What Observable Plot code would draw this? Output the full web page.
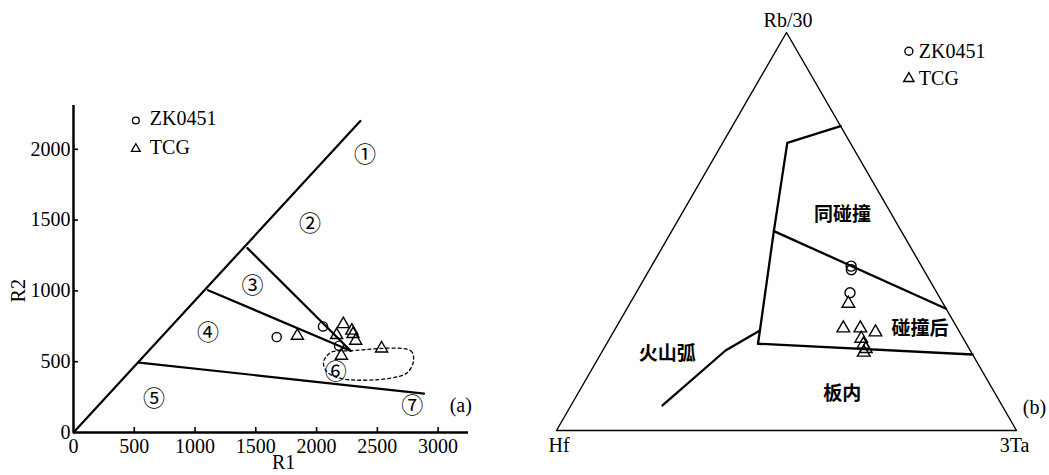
<!DOCTYPE html>
<html><head><meta charset="utf-8">
<script src="https://cdn.jsdelivr.net/npm/d3@7"></script>
<script src="https://cdn.jsdelivr.net/npm/@observablehq/plot@0.6"></script>
<style>
html,body{margin:0;padding:0;background:#fff;}
#wrap{position:relative;width:1049px;height:475px;overflow:hidden;background:#fff;}
#a{position:absolute;left:0;top:0;}
#b{position:absolute;left:490px;top:0;}
</style></head><body><div id="wrap"><div id="a"></div><div id="b"></div></div>
<script>
// ---------- Panel (a): R1–R2 diagram ----------
const r1Ticks = [0, 500, 1000, 1500, 2000, 2500, 3000];
const r2Ticks = [0, 500, 1000, 1500, 2000];
const zk0451_R1 = [1672, 2053, 2185];
const zk0451_R2 = [674, 749, 613];
const tcg_R1 = [1842, 2220, 2165, 2290, 2300, 2322, 2204, 2535];
const tcg_R2 = [683, 765, 688, 719, 695, 648, 542, 593];
// field boundaries (R1, R2)
const bndDiag = [[0, 0], [2360, 2200]];
const bnd23 = [[1431, 1302], [2280, 577]];
const bnd34 = [[1107, 1005], [2280, 577]];
const bnd45 = [[540, 494], [2884, 275]];
const field6 = [[2267, 577], [2775, 577], [2797, 507], [2748, 424], [2610, 384], [2226, 377], [2090, 424], [2057, 495], [2117, 565]];
const fieldNames = ["①", "②", "③", "④", "⑤", "⑥", "⑦"];
const fieldR1 = [2398, 1946, 1472, 1107, 663, 2157, 2788];
const fieldR2 = [1959, 1476, 1036, 702, 236, 431, 189];

// ---------- Panel (b): Rb/30 – Hf – 3Ta ----------
const zk_Hf = [0.153, 0.157, 0.189];
const zk_Rb = [0.413, 0.404, 0.346];
const zk_Ta = [0.434, 0.439, 0.465];
const tcg_Hf = [0.206, 0.248, 0.211, 0.183, 0.222, 0.225, 0.225, 0.234];
const tcg_Rb = [0.319, 0.257, 0.257, 0.247, 0.231, 0.216, 0.205, 0.196];
const tcg_Ta = [0.475, 0.495, 0.532, 0.570, 0.547, 0.559, 0.570, 0.570];
// boundaries as [Hf, Rb/30, 3Ta]
const tOutline = [[1, 0, 0], [0, 0, 1], [0, 1, 0], [1, 0, 0]];
const tSynCol = [[0, 0.765, 0.235], [0.137, 0.7225, 0.1405], [0.277, 0.501, 0.222], [0.432, 0.2515, 0.3165], [0.453, 0.218, 0.329]];
const tPostCol = [[0.277, 0.501, 0.222], [0, 0.306, 0.694]];
const tWithinPlate = [[0.453, 0.218, 0.329], [0, 0.191, 0.809]];
const tVolcArc = [[0.432, 0.2515, 0.3165], [0.532, 0.201, 0.267], [0.738, 0.063, 0.199]];
const tFieldNames = ["同碰撞", "碰撞后", "火山弧", "板内"];
const tFieldPos = [[0.108, 0.541, 0.351], [0.082, 0.256, 0.662], [0.663, 0.193, 0.144], [0.333, 0.092, 0.575]];
const legendNames = ["ZK0451", "TCG"];

const serif = "'Liberation Serif', 'Times New Roman', serif";
const cjk = "'Noto Sans CJK SC', sans-serif";
const black = "#000";

// ---------- build panel (a) ----------
const circA = zk0451_R1.map((v, i) => ({R1: v, R2: zk0451_R2[i]}));
const triA = tcg_R1.map((v, i) => ({R1: v, R2: tcg_R2[i]}));
const fieldsA = fieldNames.map((t, i) => ({t, R1: fieldR1[i], R2: fieldR2[i]}));
const seg = (a) => a.map(([R1, R2]) => ({R1, R2}));
const lineA = (a, o = {}) => Plot.line(seg(a), {x: "R1", y: "R2", stroke: black, strokeWidth: 2.2, ...o});

const plotA = Plot.plot({
  width: 490, height: 475,
  marginLeft: 73, marginRight: 22, marginTop: 105, marginBottom: 43,
  x: {domain: [0, 3250]},
  y: {domain: [0, 2309]},
  style: {fontFamily: serif, fontSize: "20px", color: black, background: "#fff", overflow: "hidden"},
  marks: [
    Plot.axisX(r1Ticks, {tickSize: 0, tickPadding: 6, label: null, tickFormat: "d", fontSize: 20, fontFamily: serif, fill: black}),
    Plot.axisY(r2Ticks, {tickSize: 0, tickPadding: 3, label: null, tickFormat: "d", fontSize: 20, fontFamily: serif, fill: black}),
    Plot.ruleX(r1Ticks.slice(1), {x: d => d, y1: 0, y2: 0, insetTop: 0, insetBottom: 5, stroke: black, strokeWidth: 1.6}),
    Plot.ruleY(r2Ticks.slice(1), {y: d => d, x1: 0, x2: 0, insetLeft: 0, insetRight: -5, stroke: black, strokeWidth: 1.6}),
    Plot.ruleX([0], {y1: 0, y2: 2309, stroke: black, strokeWidth: 2.5}),
    Plot.ruleY([0], {x1: 0, x2: 3250, stroke: black, strokeWidth: 2.5}),
    lineA(bndDiag),
    lineA(bnd23),
    lineA(bnd34),
    lineA(bnd45),
    Plot.line(seg(field6), {x: "R1", y: "R2", curve: "catmull-rom-closed", stroke: black, strokeWidth: 1.3, strokeDasharray: "3,3"}),
    Plot.text(fieldsA, {x: "R1", y: "R2", text: "t", fontFamily: cjk, fontSize: 22, fill: black}),
    Plot.dot(circA, {x: "R1", y: "R2", r: 4.6, symbol: "circle", stroke: black, strokeWidth: 1.4, fill: "none"}),
    Plot.dot(triA, {x: "R1", y: "R2", r: 4.5, symbol: "triangle", stroke: black, strokeWidth: 1.4, fill: "none"}),
    // legend
    Plot.dot([{R1: 513, R2: 2203}], {x: "R1", y: "R2", r: 3.4, symbol: "circle", stroke: black, strokeWidth: 1.3}),
    Plot.dot([{R1: 513, R2: 2003}], {x: "R1", y: "R2", r: 3.3, symbol: "triangle", stroke: black, strokeWidth: 1.3}),
    Plot.text([{t: legendNames[0], R1: 628, R2: 2214}, {t: legendNames[1], R1: 628, R2: 2014}], {x: "R1", y: "R2", text: "t", textAnchor: "start", fontFamily: serif, fontSize: 20, fill: black}),
    // axis titles and panel tag
    Plot.text([{t: "R1", R1: 1729, R2: 0}], {x: "R1", y: "R2", text: "t", dy: 30, fontFamily: serif, fontSize: 20, fill: black}),
    Plot.text([{t: "R2", R1: 0, R2: 1001}], {x: "R1", y: "R2", text: "t", dx: -55, rotate: -90, fontFamily: serif, fontSize: 20, fill: black}),
    Plot.text([{t: "(a)", R1: 3186, R2: 189}], {x: "R1", y: "R2", text: "t", fontFamily: serif, fontSize: 20, fill: black})
  ]
});
document.getElementById("a").appendChild(plotA);

// ---------- build panel (b) ----------
const S3 = Math.sqrt(3) / 2;
const tern = ([hf, rb, ta]) => { const s = hf + rb + ta; return {x: (ta + rb / 2) / s, y: (rb / s) * S3}; };
const circB = zk_Hf.map((v, i) => tern([v, zk_Rb[i], zk_Ta[i]]));
const triB = tcg_Hf.map((v, i) => tern([v, tcg_Rb[i], tcg_Ta[i]]));
const lineB = (a, w) => Plot.line(a.map(tern), {x: "x", y: "y", stroke: black, strokeWidth: w});
const fieldsB = tFieldNames.map((t, i) => ({t, ...tern(tFieldPos[i])}));
const vertexLabels = [
  {t: "Rb/30", ...tern([0, 1, 0]), dx: 1.5, dy: -12},
  {t: "Hf", ...tern([1, 0, 0]), dx: 2.5, dy: 15},
  {t: "3Ta", ...tern([0, 0, 1]), dx: -2, dy: 15}
];

const plotB = Plot.plot({
  width: 559, height: 475,
  marginLeft: 66, marginRight: 33, marginTop: 32, marginBottom: 45,
  x: {domain: [0, 1], axis: null},
  y: {domain: [0, S3], axis: null},
  style: {fontFamily: serif, fontSize: "20px", color: black, background: "#fff", overflow: "hidden"},
  marks: [
    lineB(tOutline, 1.4),
    lineB(tSynCol, 2.3),
    lineB(tPostCol, 2.3),
    lineB(tWithinPlate, 2.3),
    lineB(tVolcArc, 2.3),
    Plot.text(fieldsB, {x: "x", y: "y", text: "t", fontFamily: cjk, fontWeight: "bold", fontSize: 19, fill: black}),
    Plot.dot(circB, {x: "x", y: "y", r: 5, symbol: "circle", stroke: black, strokeWidth: 1.4, fill: "none"}),
    Plot.dot(triB, {x: "x", y: "y", r: 4.7, symbol: "triangle", stroke: black, strokeWidth: 1.4, fill: "none"}),
    ...vertexLabels.map(v => Plot.text([v], {x: "x", y: "y", text: "t", dx: v.dx, dy: v.dy, fontFamily: serif, fontSize: 20, fill: black})),
    Plot.text([{t: "(b)", x: 1.039, y: 0.05}], {x: "x", y: "y", text: "t", fontFamily: serif, fontSize: 20, fill: black}),
    // legend
    Plot.dot([{x: 0.766, y: 0.8253}], {x: "x", y: "y", r: 4, symbol: "circle", stroke: black, strokeWidth: 1.4}),
    Plot.dot([{x: 0.766, y: 0.7658}], {x: "x", y: "y", r: 3.8, symbol: "triangle", stroke: black, strokeWidth: 1.4}),
    Plot.text([{t: legendNames[0], x: 0.7877, y: 0.8253}, {t: legendNames[1], x: 0.7877, y: 0.7658}], {x: "x", y: "y", text: "t", textAnchor: "start", fontFamily: serif, fontSize: 20, fill: black})
  ]
});
document.getElementById("b").appendChild(plotB);
</script></body></html>
